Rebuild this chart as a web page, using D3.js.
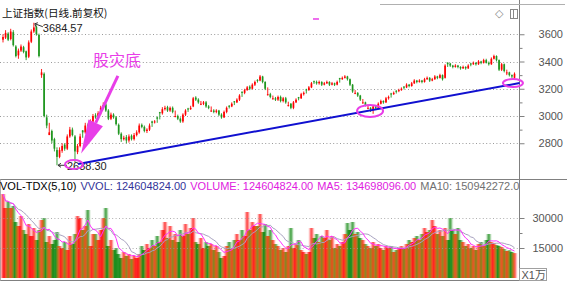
<!DOCTYPE html>
<html><head><meta charset="utf-8">
<script src="https://cdn.jsdelivr.net/npm/d3@7"></script>
<style>
body{margin:0;background:#fff;}
svg{display:block;font-family:"Liberation Sans",Arial,sans-serif;}
</style>
</head><body>
<svg id="c" width="567" height="284"></svg>
<script>
// ---------- DATA ----------
const opens=[3560,3575,3605,3565,3615,3510,3445,3480,3505,3475,
3435,3545,3620,3655,3595,3300,3310,2990,2860,2890,
2830,2750,2700,2745,2790,2760,2850,2900,2850,2735,
2780,2895,2880,2935,2870,2960,3005,2990,3020,3060,
3085,3040,2980,3010,2990,2935,2870,2830,2845,2820,
2855,2830,2860,2880,2935,2920,2890,2900,2960,2955,
2990,3028,3020,3050,3065,3040,3060,2995,3000,2980,
2960,3010,3055,3050,3070,3135,3120,3085,3090,3100,
3070,3035,3040,3030,3040,3010,2990,3030,3075,3070,
3108,3100,3120,3178,3170,3190,3215,3200,3230,3265,
3260,3290,3250,3155,3160,3125,3130,3120,3140,3110,
3130,3075,3090,3060,3100,3138,3130,3160,3195,3190,
3210,3255,3250,3240,3250,3230,3240,3250,3230,3240,
3230,3278,3270,3280,3290,3270,3230,3165,3170,3150,
3095,3100,3055,3060,3050,3070,3060,3090,3110,3100,
3130,3165,3160,3185,3185,3190,3215,3210,3230,3220,
3240,3260,3250,3260,3250,3270,3280,3260,3270,3290,
3280,3300,3280,3390,3385,3370,3360,3370,3360,3350,
3360,3350,3385,3380,3390,3380,3400,3390,3410,3390,
3380,3420,3440,3410,3340,3380,3315,3320,3300,3280];
const highs=[3600,3630,3615,3640,3630,3520,3495,3525,3515,3480,
3555,3635,3684.57,3665,3605,3345,3320,3010,2950,2900,
2840,2770,2770,2800,2800,2865,2920,2915,2860,2795,
2870,2895,2950,2945,2975,3015,3020,3035,3075,3100,
3095,3050,3025,3020,3000,2945,2880,2855,2860,2865,
2865,2875,2895,2945,2945,2930,2910,2945,2965,2970,
2995,3030,3065,3075,3075,3070,3070,3040,3010,2990,
3020,3050,3060,3075,3140,3145,3130,3110,3110,3110,
3080,3070,3050,3050,3045,3020,3040,3070,3080,3100,
3110,3130,3160,3180,3200,3220,3225,3240,3260,3270,
3301,3295,3255,3210,3170,3150,3140,3150,3150,3140,
3140,3105,3095,3110,3130,3140,3170,3180,3200,3220,
3250,3260,3260,3260,3255,3250,3260,3255,3250,3245,
3260,3280,3290,3300,3295,3275,3235,3190,3175,3155,
3125,3105,3085,3065,3080,3075,3100,3120,3115,3140,
3150,3170,3180,3190,3200,3210,3220,3240,3235,3250,
3270,3265,3270,3265,3280,3290,3285,3280,3300,3295,
3310,3305,3380,3395,3390,3375,3380,3375,3365,3370,
3365,3380,3390,3400,3395,3410,3405,3420,3420,3400,
3430,3450,3445,3415,3390,3385,3340,3325,3305,3320];
const lows=[3540,3565,3550,3555,3510,3430,3420,3470,3460,3410,
3425,3535,3610,3590,3430,3280,2990,2910,2860,2800,
2740,2638.30,2690,2730,2745,2750,2840,2850,2660,2720,
2770,2840,2870,2860,2860,2950,2980,2980,3010,3050,
3030,2970,2970,2980,2930,2860,2810,2820,2800,2805,
2820,2820,2850,2870,2910,2880,2875,2890,2920,2945,
2950,2975,3010,3040,3030,3030,3020,2990,2970,2950,
2950,3000,3030,3045,3065,3110,3090,3080,3080,3060,
3050,3030,3020,3020,3000,2980,2985,3020,3055,3065,
3080,3095,3110,3140,3160,3185,3190,3195,3220,3245,
3255,3240,3190,3150,3130,3120,3110,3110,3100,3100,
3090,3070,3050,3050,3095,3115,3125,3150,3165,3185,
3205,3235,3230,3230,3220,3225,3235,3220,3225,3220,
3225,3245,3265,3275,3260,3220,3170,3160,3140,3110,
3090,3070,3050,3030,3016,3050,3050,3085,3090,3095,
3120,3135,3155,3165,3175,3185,3195,3205,3210,3215,
3235,3240,3245,3240,3245,3265,3250,3255,3265,3270,
3275,3260,3275,3360,3360,3350,3355,3350,3340,3345,
3340,3345,3365,3375,3370,3375,3380,3385,3385,3370,
3375,3415,3400,3330,3330,3320,3300,3290,3275,3270];
const closes=[3580,3610,3560,3620,3520,3440,3480,3510,3470,3430,
3540,3620,3650,3600,3440,3320,3000,2930,2880,2820,
2760,2700,2750,2780,2760,2850,2900,2860,2740,2780,
2850,2880,2930,2870,2960,3000,2990,3020,3060,3080,
3040,2980,3010,2990,2940,2870,2830,2840,2820,2850,
2830,2860,2880,2930,2920,2890,2900,2930,2950,2960,
2980,3020,3050,3060,3040,3060,3030,3000,2980,2960,
3010,3040,3050,3060,3130,3120,3100,3090,3100,3070,
3060,3040,3030,3040,3010,2990,3030,3060,3070,3090,
3100,3120,3150,3170,3190,3210,3200,3230,3250,3260,
3290,3250,3200,3160,3140,3130,3120,3140,3110,3130,
3100,3080,3060,3100,3120,3130,3160,3170,3190,3210,
3240,3250,3240,3250,3230,3240,3250,3230,3240,3230,
3250,3270,3280,3290,3270,3230,3180,3170,3150,3120,
3100,3080,3060,3050,3070,3060,3090,3110,3100,3130,
3140,3160,3170,3180,3190,3200,3210,3230,3220,3240,
3260,3250,3260,3250,3270,3280,3260,3270,3290,3280,
3300,3270,3370,3380,3370,3360,3370,3360,3350,3360,
3350,3370,3380,3390,3380,3400,3390,3410,3390,3380,
3420,3440,3410,3340,3380,3330,3320,3300,3290,3310];
// volume in units of 10,000 shares (X1万)
const volumes=[42000,35000,38000,35000,36000,28000,26000,31000,24000,22000,
27000,21000,25000,19000,24000,29000,30000,18000,21000,17000,
19000,23000,16000,15000,18000,14000,21000,17000,22000,31000,
30000,24000,26000,34000,16000,22000,22000,19000,24000,30000,
35000,16000,19000,14000,15000,12000,10000,13000,11000,12000,
9500,11000,10000,12000,16000,14000,17000,15000,19000,16000,
21000,18000,24000,28000,20000,26000,19000,22000,18000,24000,
21000,27000,22000,25000,30000,18000,17000,20000,15000,18000,
16000,17000,14000,16000,13000,10000,11000,16000,18000,15000,
19000,22000,19000,24000,21000,33000,24000,28000,26000,26000,
32000,23000,27000,21000,24000,19000,17000,16000,14000,15000,
13000,16000,25000,15000,17000,19000,14000,13000,12000,13000,
25000,20000,22000,18000,21000,20000,24000,19000,21000,15000,
17000,16000,18000,22000,27500,24000,28000,22000,23000,20000,
19000,17000,16000,15000,18000,16000,17000,15000,14000,16000,
15000,16000,13000,14000,15000,16000,15000,17000,19000,18000,
20000,21000,19000,22000,25000,23000,24000,29000,26000,22000,
24000,21000,25000,19000,30000,24000,22000,25000,19000,18000,
16000,17000,15000,16000,14000,17000,18000,16000,19000,22000,
18000,17500,16500,16092,15500,14500,13500,13890,13000,12460];

const priceTicks=[3600,3400,3200,3000,2800];
const priceMinorTicks=[3500,3300,3100,2900];
const volTicks=[30000,15000];
const volMinorTicks=[22500];
const titleText="上证指数(日线.前复权)";
const volLegendTexts=["VOL-TDX(5,10)","VVOL: 124604824.00","VOLUME: 124604824.00","MA5: 134698096.00","MA10: 150942272.00"];
const volUnitText="X1万";
const annotationText="股灾底";
// annotation anchors in data space (candle index, price)
const trendPoints=[{i:29.2,p:2648},{i:201,p:3242}];
const lowMarks=[{i:27.6,p:2644},{i:142.8,p:3037},{i:198.4,p:3242}];
const arrowFrom={i:44.7,p:3294}, arrowTo={i:30.4,p:2724};
const annotationAnchor={i:35,p:3367};
const strayMark={i:120.6,p:3712};

// ---------- LAYOUT ----------
const W=567,H=284, axisX=519.5, sepY=179.5, botY=280.5;
const N=closes.length;
const x=d3.scaleLinear().domain([0,N-1]).range([3,514.5]);
const y=d3.scaleLinear().domain([2800,3600]).range([143.25,34.25]);
const yv=d3.scaleLinear().domain([0,30000]).range([278,218]);
const UP="#ff0000", DOWN="#1f961f", GRID="#9a9a9a", AXC="#808080", LBL="#555";
const MAG="#e83ee8";

const svg=d3.select("#c");
const defs=svg.append("defs");
defs.append("clipPath").attr("id","cm").append("rect").attr("x",0).attr("y",0).attr("width",519).attr("height",179);
defs.append("clipPath").attr("id","cv").append("rect").attr("x",0).attr("y",180).attr("width",519).attr("height",100);
const fl=defs.append("filter").attr("id","hb").attr("x","-2%").attr("y","-2%").attr("width","104%").attr("height","104%");
fl.append("feGaussianBlur").attr("stdDeviation","0.9 0");

// frame lines
svg.append("line").attr("x1",axisX).attr("x2",axisX).attr("y1",0).attr("y2",botY).attr("stroke",AXC);
svg.append("line").attr("x1",0).attr("x2",W).attr("y1",sepY).attr("y2",sepY).attr("stroke",AXC);
svg.append("line").attr("x1",0).attr("x2",axisX).attr("y1",botY).attr("y2",botY).attr("stroke",AXC);
svg.append("line").attr("x1",0.5).attr("x2",0.5).attr("y1",sepY).attr("y2",botY).attr("stroke","#b0b0b0");
svg.append("line").attr("x1",380).attr("x2",565).attr("y1",4.5).attr("y2",4.5).attr("stroke","#b0b0b0");

// gridlines
svg.append("g").selectAll("line").data(priceTicks).join("line")
  .attr("x1",0).attr("x2",518).attr("y1",d=>Math.round(y(d))+0.5).attr("y2",d=>Math.round(y(d))+0.5)
  .attr("stroke",GRID).attr("stroke-dasharray","1,2.4");

// axes
function styleAxis(g){
  g.select(".domain").remove();
  g.selectAll(".tick line").attr("stroke",AXC);
  g.selectAll(".tick text").attr("x",563-axisX).attr("text-anchor","end")
    .attr("fill",LBL).style("font-size","11px").style("font-family","'Liberation Sans',Arial,sans-serif");
}
svg.append("g").attr("transform",`translate(${axisX},0)`)
  .call(d3.axisRight(y).tickValues(priceTicks).tickSize(5).tickFormat(d3.format("d"))).call(styleAxis);
svg.append("g").attr("transform",`translate(${axisX},0)`)
  .call(d3.axisRight(y).tickValues(priceMinorTicks).tickSize(3).tickFormat("")).call(styleAxis);
svg.append("g").attr("transform",`translate(${axisX},0)`)
  .call(d3.axisRight(yv).tickValues(volTicks).tickSize(5).tickFormat(d3.format("d"))).call(styleAxis);
svg.append("g").attr("transform",`translate(${axisX},0)`)
  .call(d3.axisRight(yv).tickValues(volMinorTicks).tickSize(3).tickFormat("")).call(styleAxis);

// unit box
svg.append("rect").attr("x",axisX).attr("y",268.5).attr("width",27).attr("height",12)
  .attr("fill","none").attr("stroke","#a0a0a0");
svg.append("text").attr("x",axisX+2).attr("y",278.5).text(volUnitText)
  .attr("fill",LBL).style("font-size","11px").style("font-family","'Liberation Sans','Noto Sans CJK SC',sans-serif");

// candles
const data=closes.map((c,i)=>({i,o:opens[i],h:highs[i],l:lows[i],c,v:volumes[i]}));
const gc=svg.append("g").attr("clip-path","url(#cm)");
gc.selectAll("line").data(data).join("line")
  .attr("x1",d=>x(d.i)).attr("x2",d=>x(d.i)).attr("y1",d=>y(d.h)).attr("y2",d=>y(d.l))
  .attr("stroke",d=>d.c>=d.o?UP:DOWN).attr("stroke-width",0.9);
gc.selectAll("rect").data(data).join("rect")
  .attr("x",d=>x(d.i)-0.85).attr("width",1.7)
  .attr("y",d=>y(Math.max(d.o,d.c))).attr("height",d=>Math.max(1,Math.abs(y(d.o)-y(d.c))))
  .attr("fill",d=>d.c>=d.o?UP:DOWN);

// volume bars (slight horizontal blur mimics the dense, blended bars of the original)
const gvOuter=svg.append("g").attr("clip-path","url(#cv)");
const gv=gvOuter.append("g").attr("filter","url(#hb)");
gv.selectAll("rect").data(data).join("rect")
  .attr("x",d=>x(d.i)-1.15).attr("width",2.3)
  .attr("y",d=>yv(d.v)).attr("height",d=>yv(0)-yv(d.v))
  .attr("fill",d=>d.c>=d.o?UP:"#008000");
gvOuter.append("g").selectAll("line").data(volTicks).join("line")
  .attr("x1",0).attr("x2",518).attr("y1",d=>Math.round(yv(d))+0.5).attr("y2",d=>Math.round(yv(d))+0.5)
  .attr("stroke",GRID).attr("stroke-dasharray","1,2.4").attr("opacity",0.8);
function movingAvg(arr,n){return arr.map((_,i)=>d3.mean(arr.slice(Math.max(0,i-n+1),i+1)));}
const ma5=movingAvg(volumes,5), ma10=movingAvg(volumes,10);
const vline=d3.line().x((d,i)=>x(i)).y(d=>yv(d));
gvOuter.append("path").attr("d",vline(ma10)).attr("fill","none").attr("stroke","#a8a2c0").attr("stroke-width",1);
gvOuter.append("path").attr("d",vline(ma5)).attr("fill","none").attr("stroke","#ff30ff").attr("stroke-width",1);

// volume legend
const lg=svg.append("g").attr("clip-path","url(#cv)");
const legendColors=["#000","#333399","#e020e0","#e020e0","#707070"];
const lt=lg.append("text").attr("x",0).attr("y",190).style("font-size","11px");
volLegendTexts.forEach((t,k)=>{lt.append("tspan").attr("dx",k?4:0).attr("fill",legendColors[k]).text(t);});

// title & icons
svg.append("text").attr("x",2).attr("y",17).text(titleText)
  .style("font-size","10.6px").style("font-family","'Noto Sans CJK SC',sans-serif").attr("fill","#111");
svg.append("text").attr("x",495).attr("y",17).text("◇").style("font-size","11px").attr("fill","#888");
svg.append("rect").attr("x",510.5).attr("y",9.5).attr("width",7).attr("height",9).attr("fill","none").attr("stroke","#888");
svg.append("line").attr("x1",513.5).attr("x2",513.5).attr("y1",9.5).attr("y2",18.5).attr("stroke","#888");

// peak / trough labels
const maxI=d3.maxIndex(highs), minI=d3.minIndex(lows);
const ga=svg.append("g");
const px=x(maxI), py=y(highs[maxI]);
ga.append("path").attr("d",`M${px+1},${py+1} L${px+9},${py+4} M${px+1},${py+1} l3,-1 M${px+1},${py+1} l1,3`)
  .attr("stroke","#333").attr("fill","none");
ga.append("text").attr("x",px+9).attr("y",py+9).text(d3.format(".2f")(highs[maxI]))
  .style("font-size","11px").attr("fill","#222");
const tx=x(minI), ty=y(lows[minI]);
ga.append("path").attr("d",`M${tx+1},${ty} L${tx+10},${ty} M${tx+1},${ty} l3,-2 M${tx+1},${ty} l3,2`)
  .attr("stroke","#333").attr("fill","none");
ga.append("text").attr("x",tx+10).attr("y",ty+5).text(d3.format(".2f")(lows[minI]))
  .style("font-size","11px").attr("fill","#222");

// trendline
svg.append("line").attr("x1",x(trendPoints[0].i)).attr("y1",y(trendPoints[0].p))
  .attr("x2",x(trendPoints[1].i)).attr("y2",y(trendPoints[1].p))
  .attr("stroke","#1010d0").attr("stroke-width",2);

// ellipses
const ellSize=[[9,4.5],[13,6],[10,4]];
svg.append("g").selectAll("ellipse").data(lowMarks).join("ellipse")
  .attr("cx",d=>x(d.i)).attr("cy",d=>y(d.p))
  .attr("rx",(d,k)=>ellSize[k][0]).attr("ry",(d,k)=>ellSize[k][1])
  .attr("fill","none").attr("stroke",MAG).attr("stroke-width",2);

// big arrow
const ax0=x(arrowFrom.i), ay0=y(arrowFrom.p), ax1=x(arrowTo.i), ay1=y(arrowTo.p);
const dx=ax1-ax0, dy=ay1-ay0, len=Math.hypot(dx,dy), ux=dx/len, uy=dy/len, nx=-uy, ny=ux;
const headL=34, headW=8;
const bx=ax1-ux*headL, by=ay1-uy*headL;
svg.append("line").attr("x1",ax0).attr("y1",ay0).attr("x2",bx).attr("y2",by)
  .attr("stroke",MAG).attr("stroke-width",3);
svg.append("path").attr("d",`M${ax1},${ay1} L${bx+nx*headW},${by+ny*headW} L${bx-nx*headW},${by-ny*headW} Z`)
  .attr("fill",MAG);
svg.append("text").attr("x",x(annotationAnchor.i)).attr("y",y(annotationAnchor.p)).text(annotationText)
  .style("font-size","16px").style("font-family","'Noto Sans CJK SC',sans-serif").attr("fill",MAG);
svg.append("line").attr("x1",x(strayMark.i)).attr("x2",x(strayMark.i)+6)
  .attr("y1",y(strayMark.p)).attr("y2",y(strayMark.p)).attr("stroke",MAG).attr("stroke-width",1.5);
</script>
</body></html>
